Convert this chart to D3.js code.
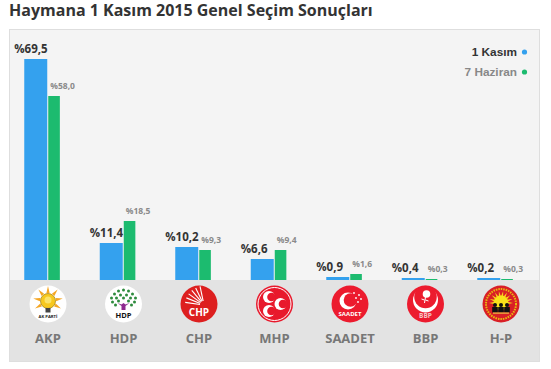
<!DOCTYPE html>
<html>
<head>
<meta charset="utf-8">
<script src="https://cdn.jsdelivr.net/npm/d3@7"></script>
<style>
html, body { margin: 0; padding: 0; background: #fff; }
svg { display: block; }
text { font-family: "Open Sans", sans-serif; }
</style>
</head>
<body>
<div id="chart"></div>
<script>
var width = 551, height = 369;

// Data
var parties = ["AKP", "HDP", "CHP", "MHP", "SAADET", "BBP", "H-P"];
var kasim = [69.5, 11.4, 10.2, 6.6, 0.9, 0.4, 0.2];
var haziran = [58.0, 18.5, 9.3, 9.4, 1.6, 0.3, 0.3];
var seriesNames = ["1 Kasım", "7 Haziran"];

var blue = "#34a1ee", green = "#1cbb6f", red = "#e8192c";

var panel = {left: 9.5, right: 539.5, top: 29.5, base: 280, bottom: 361.5};

var x = d3.scaleBand()
    .domain(parties)
    .range([11, 539.5]);

var y = d3.scaleLinear()
    .domain([0, 69.5])
    .range([panel.base, 59.7]);

var blueW = 23, greenW = 11.6;
var blueX = function(p) { return x(p) + x.bandwidth() / 2 - 24.5; };
var greenX = function(p) { return blueX(p) + blueW + 1; };
var logoX = function(p) { return x(p) + x.bandwidth() / 2 - 0.75; };
var fmt = function(v) { return "%" + v.toFixed(1).replace(".", ","); };
// the original bars never go below a sliver
var barTop = function(v, minH) { return panel.base - Math.max(Math.ceil(panel.base - y(v)), minH); };

var svg = d3.select("#chart").append("svg")
    .attr("width", width)
    .attr("height", height);

svg.append("text")
    .attr("x", 9)
    .attr("y", 16)
    .attr("font-size", 16)
    .attr("font-weight", 700)
    .attr("fill", "#333")
    .text("Haymana 1 Kasım 2015 Genel Seçim Sonuçları");

// Panel
svg.append("rect")
    .attr("x", panel.left).attr("y", panel.top)
    .attr("width", panel.right - panel.left).attr("height", panel.bottom - panel.top)
    .attr("fill", "#f4f4f4").attr("stroke", "#dedede");
svg.append("rect")
    .attr("x", panel.left + 0.5).attr("y", panel.base)
    .attr("width", panel.right - panel.left - 1).attr("height", panel.bottom - panel.base - 0.5)
    .attr("fill", "#e3e3e3");

// Legend
var legendY = [56, 76];
var legendDot = [blue, green];
var legendColor = ["#333", "#888"];
seriesNames.forEach(function(name, i) {
  svg.append("text")
    .attr("x", 517).attr("y", legendY[i])
    .attr("text-anchor", "end")
    .attr("font-size", 11.8).attr("font-weight", 700)
    .style("font-family", "'Liberation Sans', sans-serif")
    .attr("fill", legendColor[i])
    .text(name);
  svg.append("circle")
    .attr("cx", 524.5).attr("cy", legendY[i] - 4)
    .attr("r", 2.6)
    .attr("fill", legendDot[i]);
});

// Bars
var rows = parties.map(function(p, i) { return {party: p, a: kasim[i], b: haziran[i]}; });

var groups = svg.selectAll("g.party")
    .data(rows)
    .enter().append("g")
    .attr("class", "party");

groups.append("rect")
    .attr("x", function(d) { return blueX(d.party); })
    .attr("y", function(d) { return barTop(d.a, 2); })
    .attr("width", blueW)
    .attr("height", function(d) { return panel.base - barTop(d.a, 2); })
    .attr("fill", blue);

groups.append("rect")
    .attr("x", function(d) { return greenX(d.party); })
    .attr("y", function(d) { return barTop(d.b, 1); })
    .attr("width", greenW)
    .attr("height", function(d) { return panel.base - barTop(d.b, 1); })
    .attr("fill", green);

groups.append("text")
    .attr("x", function(d) { return blueX(d.party) - 10; })
    .attr("y", function(d) { return barTop(d.a, 2) - 6; })
    .attr("font-size", 11.5).attr("font-weight", 700)
    .attr("fill", "#333")
    .text(function(d) { return fmt(d.a); });

groups.append("text")
    .attr("x", function(d) { return greenX(d.party) + 2; })
    .attr("y", function(d) { return barTop(d.b, 1) - 7; })
    .attr("font-size", 8.5).attr("font-weight", 700)
    .attr("fill", "#8a8a8a")
    .text(function(d) { return fmt(d.b); });

groups.append("text")
    .attr("x", function(d) { return logoX(d.party); })
    .attr("y", 343)
    .attr("text-anchor", "middle")
    .attr("font-size", 13).attr("font-weight", 700)
    .attr("fill", "#777")
    .text(function(d) { return d.party; });

// Logos
function crescent(g, cx, cy, r, dx, dy, ratio, fill, back) {
  g.append("circle").attr("cx", cx).attr("cy", cy).attr("r", r).attr("fill", fill);
  g.append("circle").attr("cx", cx + dx).attr("cy", cy + dy).attr("r", r * ratio).attr("fill", back);
}
function label(g, txt, ty, size, fill) {
  g.append("text").attr("y", ty).attr("text-anchor", "middle")
    .attr("font-size", size).attr("font-weight", 700).attr("fill", fill).text(txt);
}
function disc(g, fill) {
  g.append("circle").attr("r", 18.5).attr("fill", fill);
}

var logos = {
  "AKP": function(g) {
    disc(g, "#fff");
    d3.range(-120, 121, 40).forEach(function(a) {
      g.append("path").attr("d", "M-1.6,-8 L0,-15 L1.6,-8Z")
        .attr("transform", "translate(0,-3) rotate(" + a + ")")
        .attr("fill", "#f5a623");
    });
    g.append("circle").attr("cy", -3).attr("r", 7.5).attr("fill", "#f7c81e").attr("stroke", "#a88a20").attr("stroke-width", 0.8);
    g.append("circle").attr("cy", -4).attr("r", 3.5).attr("fill", "#fbe36a");
    g.append("rect").attr("x", -2.5).attr("y", 4).attr("width", 5).attr("height", 4.5).attr("fill", "#444");
    label(g, "AK PARTİ", 14, 4.2, "#222");
  },
  "HDP": function(g) {
    disc(g, "#fff");
    var leaves = [[0,-14],[-5,-13],[5,-13],[-9,-10],[9,-10],[-3,-9],[3,-9],[-12,-6],[12,-6],[-7,-6],[7,-6],[0,-6],[-11,-2],[11,-2],[-5,-3],[5,-3],[-8,1],[8,1]];
    leaves.forEach(function(l) {
      g.append("circle").attr("cx", l[0]).attr("cy", l[1]).attr("r", 1.5).attr("fill", "#2e8b3d");
    });
    g.append("path").attr("d", "M-6,-1 L-2,2 L-2,6 L2,6 L2,2 L6,-1 L2,0.5 L0,-1 L-2,0.5Z").attr("fill", "#8e2a8f");
    label(g, "HDP", 14, 7.5, "#111");
  },
  "CHP": function(g) {
    disc(g, "#dd1f1f");
    [-172, -158, -144, -130, -116, -102].forEach(function(a) {
      var r0 = 4, r1 = 15;
      var c = Math.cos(a * Math.PI / 180), s = Math.sin(a * Math.PI / 180);
      g.append("line")
        .attr("x1", 5 + r0 * c).attr("y1", 1 + r0 * s)
        .attr("x2", 5 + (r1 + 4) * c).attr("y2", 1 + (r1 + 4) * s)
        .attr("stroke", "#fff").attr("stroke-width", 1.1);
    });
    g.append("circle").attr("cx", 5).attr("cy", 1).attr("r", 4).attr("fill", "#dd1f1f");
    label(g, "CHP", 12, 10, "#fff");
  },
  "MHP": function(g) {
    disc(g, red);
    g.append("circle").attr("r", 16.5).attr("fill", "none").attr("stroke", "#fff").attr("stroke-width", 1);
    crescent(g, -5.5, -7, 6, 2.5, 0, 0.72, "#fff", red);
    crescent(g, -5.5, 7, 6, 2.5, 0, 0.72, "#fff", red);
    crescent(g, 6, 0, 6, 2.5, 0, 0.72, "#fff", red);
  },
  "SAADET": function(g) {
    disc(g, "#ec1b2e");
    crescent(g, -2, -3, 8.5, 2.5, -1, 0.8, "#fff", "#ec1b2e");
    [[4,-11],[9,-9],[6,-6],[11,-5],[8,-2]].forEach(function(s) {
      g.append("circle").attr("cx", s[0]).attr("cy", s[1]).attr("r", 0.9).attr("fill", "#fff");
    });
    label(g, "SAADET", 12, 6, "#fff");
  },
  "BBP": function(g) {
    disc(g, "#ec1b2e");
    crescent(g, 0, -4, 12.5, 0, -3, 0.9, "#fff", "#ec1b2e");
    g.append("circle").attr("cx", 1).attr("cy", -10).attr("r", 3.8).attr("fill", "#fff");
    g.append("path").attr("d", "M0,-7 L-1,-1 M-1,-4 L-4,-5 M0,-4 L3,-3").attr("stroke", "#fff").attr("stroke-width", 1).attr("fill", "none");
    label(g, "BBP", 14, 6.5, "#f4c6c6");
  },
  "H-P": function(g) {
    disc(g, "#d91f26");
    g.append("circle").attr("r", 15).attr("fill", "none").attr("stroke", "#e8b90f").attr("stroke-width", 2).attr("stroke-dasharray", "1.5 1");
    d3.range(-90, 91, 20).forEach(function(a) {
      g.append("path").attr("d", "M-1,-7 L0,-12 L1,-7Z")
        .attr("transform", "translate(0,-1) rotate(" + a + ")")
        .attr("fill", "#f9d71a");
    });
    g.append("circle").attr("cy", -1).attr("r", 7.5).attr("fill", "#f9e21a");
    [-6, 0, 6].forEach(function(px) {
      g.append("circle").attr("cx", px).attr("cy", 1).attr("r", 2).attr("fill", "#111");
      g.append("rect").attr("x", px - 2.8).attr("y", 3).attr("width", 5.6).attr("height", 5.5).attr("fill", "#111");
    });
    g.append("rect").attr("x", -8).attr("y", 8.5).attr("width", 16).attr("height", 1.2).attr("fill", "#f0c040");
  }
};

groups.each(function(d) {
  var g = d3.select(this).append("g")
      .attr("transform", "translate(" + logoX(d.party) + ",304)");
  logos[d.party](g);
});
</script>
</body>
</html>
